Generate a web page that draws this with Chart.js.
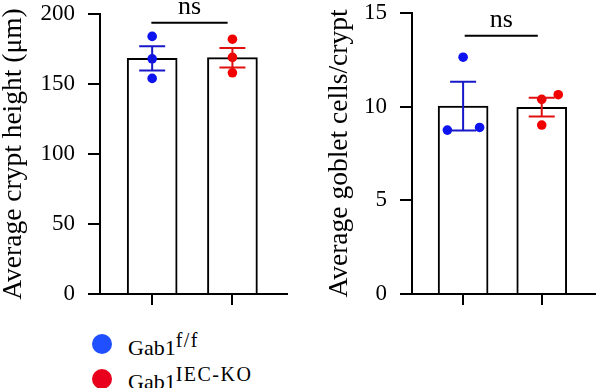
<!DOCTYPE html>
<html>
<head>
<meta charset="utf-8">
<script src="https://cdn.jsdelivr.net/npm/chart.js@4"></script>
<style>
  body { margin: 0; background: #fff; width: 600px; height: 388px; overflow: hidden; position: relative; font-family: "Liberation Serif", serif; }
  #heightChart { position: absolute; left: 0; top: 0; }
  #gobletChart { position: absolute; left: 300px; top: 0; }
  .dot { position: absolute; width: 20px; height: 20px; border-radius: 50%; }
  .lab { position: absolute; left: 128px; font-size: 22px; line-height: 22px; color: #000; white-space: nowrap; }
  .lab sup { font-size: 20px; vertical-align: 8px; line-height: 0; letter-spacing: 1.5px; }
</style>
</head>
<body>
<canvas id="heightChart" width="300" height="320"></canvas>
<canvas id="gobletChart" width="300" height="320"></canvas>

<div class="dot" style="left:92px; top:334px; background:#1f4fff"></div>
<div class="lab" style="top:337px">Gab1<sup>f/f</sup></div>
<div class="dot" style="left:92px; top:369px; background:#e8001c"></div>
<div class="lab" style="top:371px">Gab1<sup>IEC-KO</sup></div>

<script>
// groups sit at x = 0 and x = 1
const groups = ["Gab1 f/f", "Gab1 IEC-KO"];
const xPos = [0, 1];

// crypt height (um)
const heightMean = [168.3, 168.8];
const heightSem = [8.7, 7.0];
const heightCtrl = [184, 168, 154];
const heightKo = [182, 169, 158];
const heightCtrlJit = [0, 0, 0];
const heightKoJit = [0, 0, 0];
const heightTicks = [0, 50, 100, 150, 200];

// goblet cells per crypt
const gobletMean = [10.03, 9.97];
const gobletSem = [1.3, 0.5];
const gobletCtrl = [12.64, 8.75, 8.89];
const gobletKo = [10.39, 10.64, 9.02];
const gobletCtrlJit = [0, -0.2, 0.21];
const gobletKoJit = [0, 0.21, 0];
const gobletTicks = [0, 5, 10, 15];

const serif = "'Liberation Serif', 'Times New Roman', serif";
const dotColors = ["#0c12f0", "#f20000"];
const errColors = ["#1818c8", "#e01010"];

function makeChart(id, cfg) {
  const overlay = {
    id: "overlay",
    afterDatasetsDraw(chart) {
      const ctx = chart.ctx;
      const x = chart.scales.x, y = chart.scales.y;
      ctx.save();
      ctx.lineWidth = 2;
      // error bars (mean +/- sem)
      for (let i = 0; i < xPos.length; i++) {
        const px = x.getPixelForValue(xPos[i]);
        const top = y.getPixelForValue(cfg.mean[i] + cfg.sem[i]);
        const bot = y.getPixelForValue(cfg.mean[i] - cfg.sem[i]);
        ctx.strokeStyle = errColors[i];
        ctx.beginPath();
        ctx.moveTo(px, top); ctx.lineTo(px, bot);
        ctx.moveTo(px - 13, top); ctx.lineTo(px + 13, top);
        ctx.moveTo(px - 13, bot); ctx.lineTo(px + 13, bot);
        ctx.stroke();
      }
      // ns bracket
      const by = y.getPixelForValue(cfg.bracketY);
      const bx0 = x.getPixelForValue(cfg.bracketX[0]);
      const bx1 = x.getPixelForValue(cfg.bracketX[1]);
      ctx.strokeStyle = "#000";
      ctx.beginPath();
      ctx.moveTo(bx0, by); ctx.lineTo(bx1, by);
      ctx.stroke();
      ctx.fillStyle = "#000";
      ctx.font = "26px " + serif;
      ctx.textAlign = "center";
      ctx.textBaseline = "alphabetic";
      ctx.fillText("ns", (bx0 + bx1) / 2, by - 9);
      ctx.restore();
    }
  };

  new Chart(document.getElementById(id), {
    type: "bar",
    data: {
      datasets: [
        {
          type: "scatter",
          data: cfg.ctrl.map((v, i) => ({ x: xPos[0] + cfg.ctrlJit[i], y: v })),
          backgroundColor: dotColors[0],
          borderWidth: 0,
          pointRadius: 4.8,
          order: 1
        },
        {
          type: "scatter",
          data: cfg.ko.map((v, i) => ({ x: xPos[1] + cfg.koJit[i], y: v })),
          backgroundColor: dotColors[1],
          borderWidth: 0,
          pointRadius: 4.8,
          order: 1
        },
        {
          data: cfg.mean.map((v, i) => ({ x: xPos[i], y: v })),
          backgroundColor: "#fff",
          borderColor: "#000",
          borderWidth: 2,
          barThickness: 50,
          order: 2
        }
      ]
    },
    options: {
      responsive: false,
      animation: false,
      layout: { padding: { left: cfg.padLeft, right: cfg.padRight, top: cfg.padTop, bottom: 0 } },
      plugins: { legend: { display: false }, tooltip: { enabled: false } },
      scales: {
        x: {
          type: "linear",
          min: -0.65,
          max: 1.68,
          offset: false,
          afterBuildTicks: s => { s.ticks = xPos.map(v => ({ value: v })); },
          afterFit: s => { s.height = 26; s.paddingLeft = 0; s.paddingRight = 0; },
          ticks: { callback: () => "" },
          grid: { offset: false, drawOnChartArea: false, tickLength: 11, color: "#000", lineWidth: 2 },
          border: { color: "#000", width: 2 }
        },
        y: {
          min: 0,
          max: cfg.max,
          afterBuildTicks: s => { s.ticks = cfg.ticks.map(v => ({ value: v })); },
          afterFit: s => { s.width = cfg.yWidth; s.paddingTop = 0; s.paddingBottom = 0; },
          ticks: { color: "#000", padding: 13, font: { family: serif, size: 23 } },
          grid: { drawOnChartArea: false, tickLength: 12, color: "#000", lineWidth: 2 },
          border: { color: "#000", width: 2 },
          title: {
            display: true,
            text: cfg.title,
            color: "#000",
            padding: { top: 0, bottom: 0 },
            font: { family: serif, size: 27.5, lineHeight: 1 }
          }
        }
      }
    },
    plugins: [overlay]
  });
}

makeChart("heightChart", {
  mean: heightMean, sem: heightSem,
  ctrl: heightCtrl, ko: heightKo,
  ctrlJit: heightCtrlJit, koJit: heightKoJit,
  ticks: heightTicks, max: 200,
  title: "Average crypt height (\u03bcm)",
  bracketY: 193.8, bracketX: [-0.01, 0.94],
  padLeft: 0, padRight: 13, padTop: 14, yWidth: 100
});

makeChart("gobletChart", {
  mean: gobletMean, sem: gobletSem,
  ctrl: gobletCtrl, ko: gobletKo,
  ctrlJit: gobletCtrlJit, koJit: gobletKoJit,
  ticks: gobletTicks, max: 15,
  title: "Average goblet cells/crypt",
  bracketY: 13.78, bracketX: [0.02, 0.95],
  padLeft: 26, padRight: 0, padTop: 13, yWidth: 86
});
</script>
</body>
</html>
